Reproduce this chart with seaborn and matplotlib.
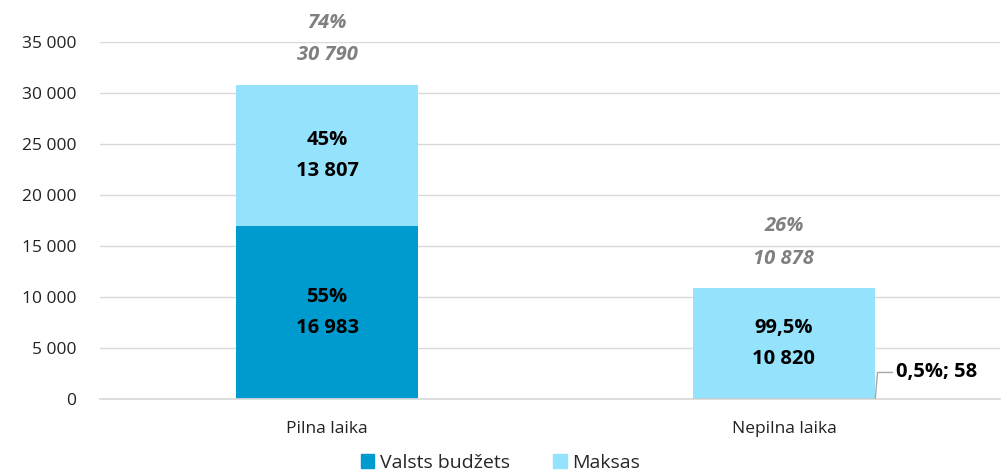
import matplotlib
matplotlib.use("Agg")
import matplotlib.pyplot as plt
import seaborn as sns
import pandas as pd
import numpy as np

categories = ["Pilna laika", "Nepilna laika"]
valsts = [16983, 58]
maksas = [13807, 10820]
valsts_pct = ["55%", "0,5%"]
maksas_pct = ["45%", "99,5%"]
total_pct = ["74%", "26%"]
series_names = ["Valsts budžets", "Maksas"]
yticks = [0, 5000, 10000, 15000, 20000, 25000, 30000, 35000]

C_DARK = "#009BCE"
C_LIGHT = "#95E2FC"

sns.set_theme(style="white")
plt.rcParams['font.family'] = ['Open Sans', 'DejaVu Sans']

def fmt(v):
    return f"{v:,}".replace(",", " ")

fig = plt.figure(figsize=(10.01, 4.71), dpi=100)
ax = fig.add_axes([100/1001, 1 - 399/471, 900/1001, (399-42)/471])

df = pd.DataFrame({"cat": categories, "valsts": valsts, "maksas": maksas})
sns.barplot(data=df, x="cat", y="valsts", color=C_DARK, width=0.4, ax=ax,
            saturation=1, linewidth=0, legend=False)
sns.barplot(data=df, x="cat", y="maksas", color=C_LIGHT, width=0.4, ax=ax,
            saturation=1, bottom=df["valsts"], linewidth=0, legend=False)
if ax.get_legend() is not None:
    ax.get_legend().remove()

ax.set_ylim(0, 35000)
ax.set_xlim(-0.497, 1.473)
ax.set_yticks(yticks)
ax.set_yticklabels([fmt(v) for v in yticks], fontsize=12.5, color="#222222")
ax.tick_params(axis="x", labelsize=12.5, colors="#222222", length=0, pad=16)
ax.tick_params(axis="y", length=0, pad=17)
ax.set_xlabel("")
ax.set_ylabel("")
ax.yaxis.grid(True, color="#d9d9d9", linewidth=1)
ax.set_axisbelow(True)
for s in ["top", "right", "left"]:
    ax.spines[s].set_visible(False)
ax.spines["bottom"].set_color("#d9d9d9")

lbl_kw = dict(ha="center", va="center", fontsize=14.5, fontweight="bold", color="black", linespacing=1.75)
for i in range(2):
    tot = valsts[i] + maksas[i]
    if valsts[i] > 1000:
        ax.text(i, valsts[i] / 2, f"{valsts_pct[i]}\n{fmt(valsts[i])}", **lbl_kw)
    ax.text(i, valsts[i] + maksas[i] / 2, f"{maksas_pct[i]}\n{fmt(maksas[i])}", **lbl_kw)
    ax.text(i, tot + 4500, f"{total_pct[i]}\n{fmt(tot)}", ha="center", va="center",
            fontsize=14.5, fontweight="bold", style="italic", color="#808080",
            linespacing=1.85, clip_on=False)

ax.annotate(f"{valsts_pct[1]}; {fmt(valsts[1])}", xy=(1.2, valsts[1]),
            xytext=(1.245, 2600), ha="left", va="center", fontsize=14.5,
            fontweight="bold", color="black",
            arrowprops=dict(arrowstyle="-", color="#a6a6a6", lw=1,
                            connectionstyle="angle,angleA=0,angleB=85,rad=0",
                            shrinkA=0, shrinkB=0))

handles = [plt.Rectangle((0, 0), 1, 1, color=C_DARK), plt.Rectangle((0, 0), 1, 1, color=C_LIGHT)]
fig.legend(handles, series_names, loc="center", bbox_to_anchor=(0.5, 1 - 463/471),
           ncol=2, frameon=False, fontsize=14, handlelength=0.7, handleheight=0.7,
           handletextpad=0.3, columnspacing=2.2)

fig.savefig("out.png", dpi=100)
